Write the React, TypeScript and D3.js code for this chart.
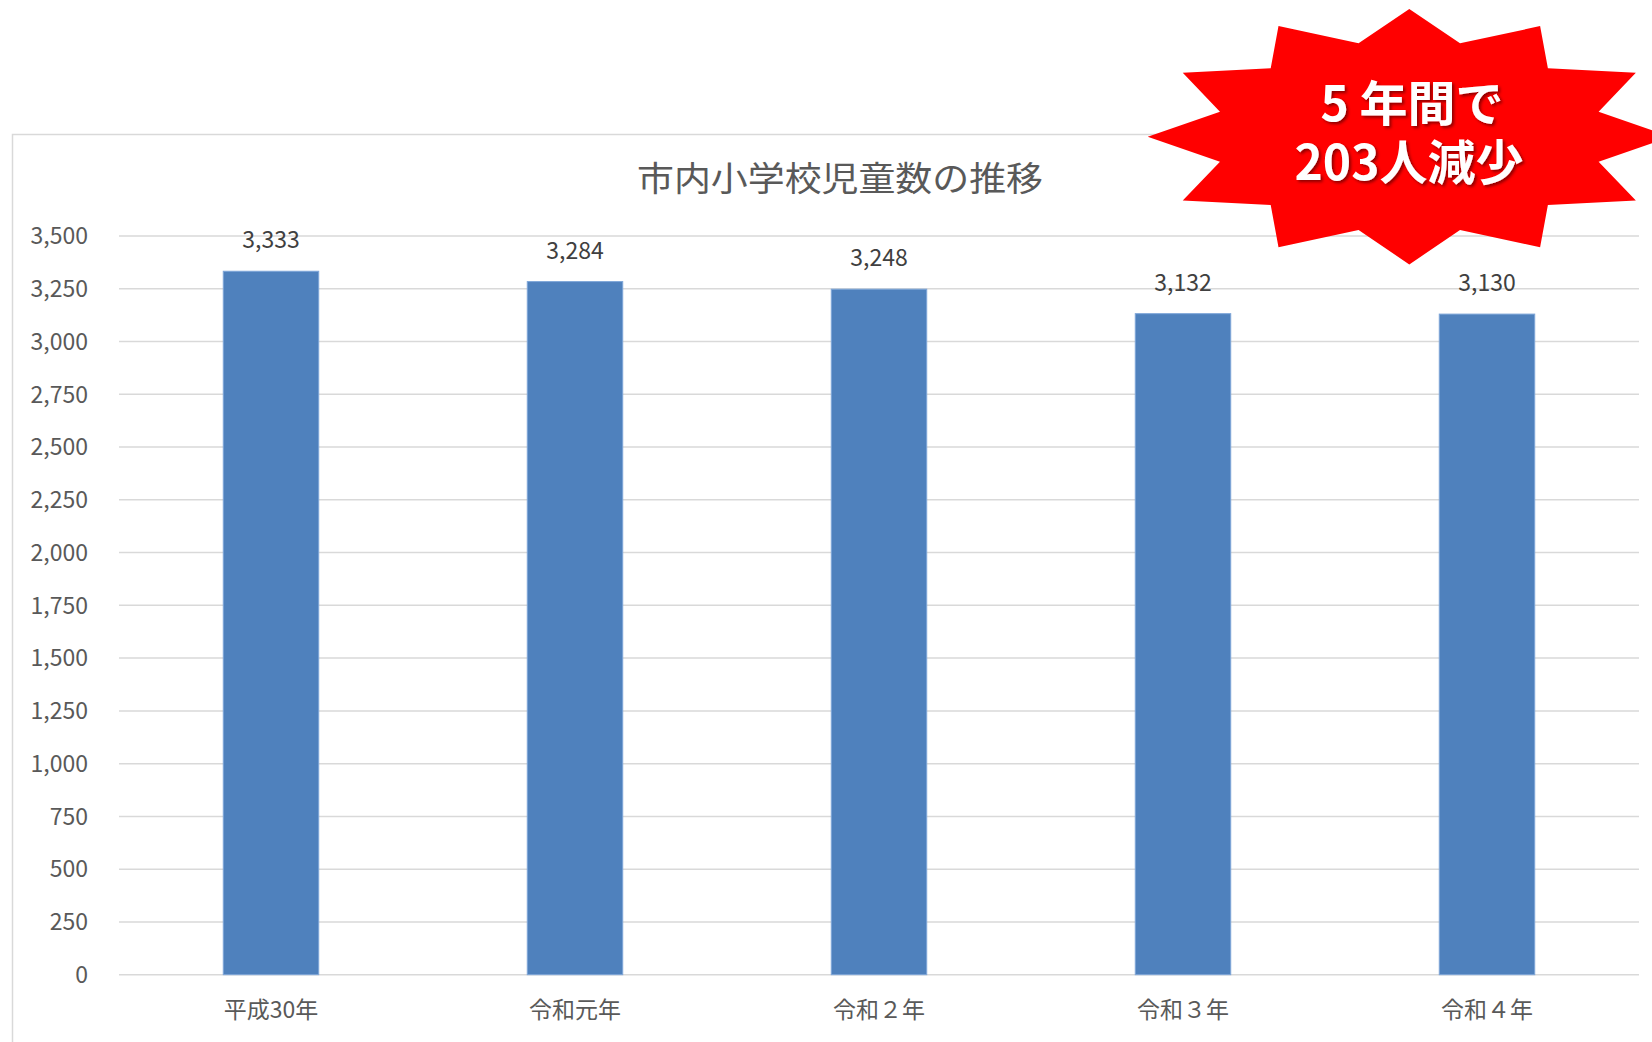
import React from 'react';
import * as d3 from 'd3';

const categories = ['平成30年', '令和元年', '令和２年', '令和３年', '令和４年'];
const values = [3333, 3284, 3248, 3132, 3130];
const yTicks = [0, 250, 500, 750, 1000, 1250, 1500, 1750, 2000, 2250, 2500, 2750, 3000, 3250, 3500];
const title = '市内小学校児童数の推移';
const calloutLines = ['5 年間で', '203人減少'];

const W = 1652;
const H = 1042;
const FONT = '"Noto Sans CJK JP", "Noto Sans", sans-serif';

export default function App() {
  const x = d3.scaleBand<string>().domain(categories).range([119, 1639]).paddingInner(0.686).paddingOuter(0.343);
  const y = d3.scaleLinear().domain([0, 3500]).range([974.7, 236]);
  const fmt = d3.format(',');

  // 12-point starburst
  const cx = 1409.3, cy = 136.7;
  const orx = 261.6, ory = 127.7, irx = 196, iry = 96.7;
  const pts: [number, number][] = [];
  for (let i = 0; i < 24; i++) {
    const a = (i * Math.PI) / 12;
    const outer = i % 2 === 0;
    const rx = outer ? orx : irx;
    const ry = outer ? ory : iry;
    pts.push([cx + rx * Math.sin(a), cy - ry * Math.cos(a)]);
  }
  const starPath = d3.line()(pts) + 'Z';

  return (
    <svg width={W} height={H} style={{ position: 'absolute', left: 0, top: 0, background: '#fff' }} fontFamily={FONT}>
      <defs>
        <filter id="ts" x="-10%" y="-20%" width="130%" height="150%">
          <feDropShadow dx="2" dy="2" stdDeviation="1.5" floodColor="#000" floodOpacity="0.45" />
        </filter>
      </defs>
      <rect x={12.5} y={134.5} width={1660} height={960} fill="#fff" stroke="#D9D9D9" strokeWidth={1.5} />
      {yTicks.map((t) => (
        <g key={t}>
          <line x1={119} x2={1639} y1={y(t)} y2={y(t)} stroke="#D9D9D9" strokeWidth={1.5} />
          <text x={88} y={y(t)} dy="0.36em" textAnchor="end" fontSize={23} fill="#595959">
            {fmt(t)}
          </text>
        </g>
      ))}
      {categories.map((c, i) => (
        <g key={c}>
          <rect
            x={x(c)}
            y={y(values[i])}
            width={x.bandwidth()}
            height={y(0) - y(values[i])}
            fill="#4F81BD"
            stroke="#7EA6D8"
            strokeWidth={1}
          />
          <text x={(x(c) as number) + x.bandwidth() / 2} y={y(values[i]) - 23} textAnchor="middle" fontSize={23} fill="#404040">
            {fmt(values[i])}
          </text>
          <text x={(x(c) as number) + x.bandwidth() / 2} y={1018} textAnchor="middle" fontSize={23} fill="#595959">
            {c}
          </text>
        </g>
      ))}
      <text x={840} y={191} textAnchor="middle" fontSize={34} fill="#595959" textLength={406} lengthAdjust="spacingAndGlyphs">
        {title}
      </text>
      <path d={starPath} fill="#FF0000" />
      <text filter="url(#ts)" fill="#fff" fontWeight={700} fontSize={48} textAnchor="middle">
        <tspan x={1412} y={121}>{calloutLines[0]}</tspan>
        <tspan x={1409} y={180}>{calloutLines[1]}</tspan>
      </text>
    </svg>
  );
}
